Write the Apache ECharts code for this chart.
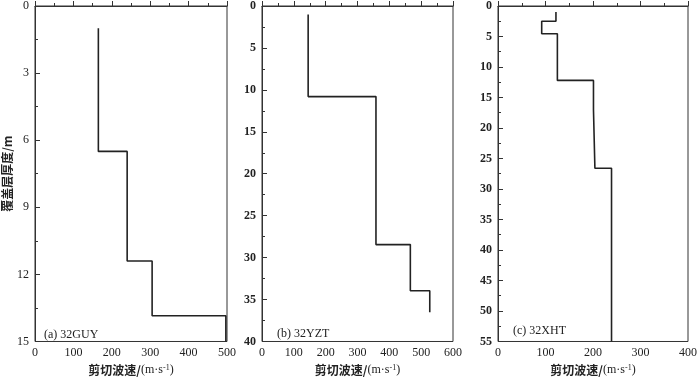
<!DOCTYPE html>
<html>
<head>
<meta charset="utf-8">
<script src="https://cdn.jsdelivr.net/npm/echarts@6/dist/echarts.min.js"></script>
<style>
  html, body { margin: 0; padding: 0; background: #fff; }
  #chart { width: 700px; height: 381px; }
</style>
</head>
<body>
<div id="chart"></div>
<script>
  // 各测点分层：层底深度(m) 与 剪切波速(m/s)
  const depthsA = [1, 6.5, 11.4, 13.85, 15];
  const velsA = [165, 240, 305, 497];
  const depthsB = [1, 10.8, 28.45, 33.95, 36.5];
  const velsB = [145, 358, 466, 527];
  const depthsC = [1, 2.5, 4.55, 12.2, 17, 26.6, 55];
  const velsC = [122, 92, 125, 201, 204, 239];

  const panelNames = ['(a) 32GUY', '(b) 32YZT', '(c) 32XHT'];
  const xMax = [500, 600, 400];
  const yMax = [15, 40, 55];
  const yStep = [3, 5, 5];

  // 阶梯形剖面点
  function profile(depths, vels) {
    let pts = [];
    for (let i = 0; i < vels.length; i++) {
      pts.push([vels[i], depths[i]]);
      pts.push([vels[i], depths[i + 1]]);
    }
    return pts;
  }

  const serif = 'Liberation Serif';
  const cjk = 'Noto Sans CJK SC';
  const grids = [
    {left: 35, width: 192, top: 6, height: 342},
    {left: 262, width: 191, top: 6, height: 342},
    {left: 498, width: 191, top: 6, height: 341}
  ];

  let xAxis = [], yAxis = [], series = [], title = [];
  const data = [profile(depthsA, velsA), profile(depthsB, velsB), profile(depthsC, velsC)];
  const titlePos = [[39, 324], [272, 323], [508, 320]];

  for (let i = 0; i < 3; i++) {
    xAxis.push({
      type: 'value', gridIndex: i, min: 0, max: xMax[i], interval: 100,
      name: '{a|剪切波速/}{b|(m·s}{c|-1}{b|)}', nameLocation: 'middle', nameGap: 22,
      nameTextStyle: {
        rich: {
          a: {fontFamily: cjk, fontSize: 12, color: '#222', fontWeight: 'bold'},
          b: {fontFamily: serif, fontSize: 12, color: '#222'},
          c: {fontFamily: serif, fontSize: 8, color: '#222', verticalAlign: 'top', padding: [0, 0, 5, 0]}
        }
      },
      axisLine: {show: true, lineStyle: {color: '#333'}},
      axisTick: {inside: true, length: 5, lineStyle: {color: '#333'}},
      minorTick: {show: true, splitNumber: 2, length: 3, lineStyle: {color: '#333'}},
      splitLine: {show: false},
      axisLabel: {fontFamily: serif, fontSize: 12, color: '#222', margin: 5}
    });
    yAxis.push({
      type: 'value', gridIndex: i, min: 0, max: yMax[i], interval: yStep[i], inverse: true,
      name: i === 0 ? '覆盖层厚度/m' : '', nameLocation: 'middle', nameGap: 22, nameRotate: 90,
      nameTextStyle: {fontFamily: cjk, fontSize: 12, color: '#222', fontWeight: 'bold'},
      axisLine: {show: true, lineStyle: {color: '#333'}},
      axisTick: {inside: true, length: 5, lineStyle: {color: '#333'}},
      minorTick: {show: true, splitNumber: 2, length: 3, lineStyle: {color: '#333'}},
      splitLine: {show: false},
      axisLabel: {fontFamily: serif, fontSize: 12, color: '#222', margin: 6,
        fontWeight: i === 0 ? 'normal' : 'bold'}
    });
    series.push({
      type: 'line', xAxisIndex: i, yAxisIndex: i, data: data[i],
      symbol: 'none', lineStyle: {color: '#222', width: 1.6}, animation: false
    });
    title.push({
      text: panelNames[i], left: titlePos[i][0], top: titlePos[i][1],
      textStyle: {fontFamily: serif, fontSize: 12, fontWeight: 'normal', color: '#222'}
    });
  }

  const myChart = echarts.init(document.getElementById('chart'));
  myChart.setOption({
    animation: false,
    title: title,
    grid: grids.map(g => Object.assign({show: true, borderColor: '#333', borderWidth: 1}, g)),
    xAxis: xAxis,
    yAxis: yAxis,
    series: series
  });
</script>
</body>
</html>
